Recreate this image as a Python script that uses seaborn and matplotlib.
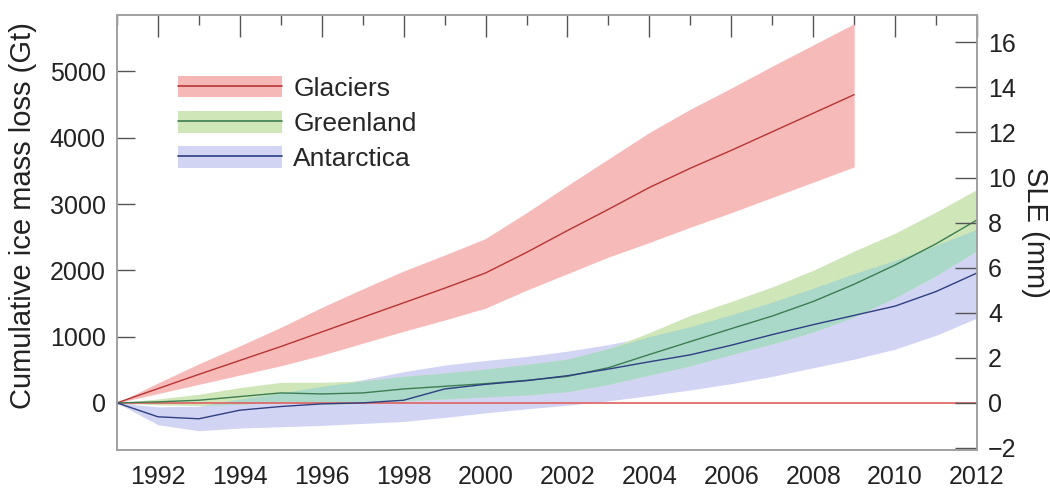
import numpy as np
import pandas as pd
import matplotlib
matplotlib.use("Agg")
import matplotlib.pyplot as plt
from matplotlib.patches import Patch
from matplotlib.lines import Line2D
from matplotlib.ticker import MultipleLocator
import seaborn as sns

# Cumulative ice mass loss (Gt) by year
years = list(range(1991, 2013))
glacier_years = list(range(1991, 2010))

glaciers = [0, 215, 430, 640, 850, 1070, 1290, 1510, 1730, 1960, 2270,
            2600, 2920, 3250, 3540, 3810, 4090, 4370, 4650]
glaciers_upper = [0, 300, 590, 860, 1140, 1440, 1720, 1990, 2230, 2480, 2870,
                  3280, 3680, 4080, 4430, 4750, 5080, 5400, 5720]
glaciers_lower = [0, 140, 280, 420, 560, 720, 900, 1080, 1250, 1430, 1700,
                  1950, 2200, 2420, 2650, 2870, 3100, 3330, 3560]

greenland = [0, 15, 40, 95, 150, 135, 150, 210, 250, 290, 340, 400, 530, 730,
             925, 1120, 1310, 1530, 1790, 2080, 2400, 2760]
greenland_upper = [0, 60, 130, 230, 310, 310, 330, 400, 450, 510, 580, 660,
                   820, 1060, 1320, 1530, 1750, 2000, 2290, 2560, 2880, 3220]
greenland_lower = [0, -30, -40, -20, 10, -20, -10, 30, 60, 90, 120, 170, 280,
                   420, 560, 730, 890, 1070, 1300, 1590, 1920, 2300]

antarctica = [0, -210, -240, -110, -55, -15, 0, 40, 210, 280, 335, 410, 510,
              620, 725, 870, 1030, 1180, 1320, 1460, 1680, 1960]
antarctica_upper = [0, -60, -50, 60, 150, 250, 350, 470, 570, 640, 700, 780,
                    880, 1000, 1150, 1330, 1520, 1730, 1950, 2150, 2380, 2620]
antarctica_lower = [0, -330, -420, -380, -360, -340, -310, -280, -220, -150,
                    -90, -35, 30, 110, 195, 290, 400, 530, 660, 810, 1020, 1280]

regions = ["Glaciers", "Greenland", "Antarctica"]
gt_per_mm = 340.0

line_colors = {"Glaciers": "#b83434", "Greenland": "#3d7d52", "Antarctica": "#2f3f82"}
band_colors = {"Glaciers": "#f5b8b7", "Greenland": "#cfe6b8", "Antarctica": "#d2d4f3"}
overlap_color = "#aad8c9"

df = pd.concat([
    pd.DataFrame({"year": glacier_years, "loss": glaciers, "region": "Glaciers"}),
    pd.DataFrame({"year": years, "loss": greenland, "region": "Greenland"}),
    pd.DataFrame({"year": years, "loss": antarctica, "region": "Antarctica"}),
], ignore_index=True)

sns.set_theme(style="white")
plt.rcParams["font.family"] = ["Liberation Sans", "DejaVu Sans"]

fig, ax = plt.subplots(figsize=(10.5, 4.88), dpi=100)
fig.subplots_adjust(left=0.1114, right=0.9305, bottom=0.078, top=0.969)

# uncertainty bands
ax.fill_between(years, antarctica_lower, antarctica_upper,
                color=band_colors["Antarctica"], lw=0, zorder=1)
ax.fill_between(years, greenland_lower, greenland_upper,
                color=band_colors["Greenland"], lw=0, zorder=1.1)
ov_lo = np.maximum(antarctica_lower, greenland_lower)
ov_hi = np.minimum(antarctica_upper, greenland_upper)
ax.fill_between(years, ov_lo, ov_hi, where=ov_hi > ov_lo, interpolate=True,
                color=overlap_color, lw=0, zorder=1.2)
ax.fill_between(glacier_years, glaciers_lower, glaciers_upper,
                color="#f08c8b", alpha=0.6, lw=0, zorder=1.3)

ax.axhline(0, color="#de6b6b", lw=1.3, zorder=2)

sns.lineplot(data=df, x="year", y="loss", hue="region", hue_order=regions,
             palette=line_colors, lw=1.0, legend=False, ax=ax, zorder=3)

ax.set_xlim(1991, 2012)
ax.set_ylim(-710, 5850)
ax.set_xticks(range(1992, 2013, 2))
ax.xaxis.set_minor_locator(MultipleLocator(1))
ax.set_yticks(range(0, 5001, 1000))
ax.set_xlabel("")
ax.set_ylabel("Cumulative ice mass loss (Gt)", fontsize=21, color="#222222")
ax.yaxis.set_label_coords(-0.093, 0.54)

tick_col = "#555555"
ax.tick_params(axis="x", which="major", direction="in", length=16, width=1,
               top=True, labelsize=18, pad=11, color=tick_col, labelcolor="#222222")
ax.tick_params(axis="x", which="minor", direction="in", length=7, width=1,
               top=True, color=tick_col)
ax.tick_params(axis="y", which="major", direction="in", length=13, width=1,
               right=False, labelsize=18, pad=8, color=tick_col, labelcolor="#222222")

ax2 = ax.twinx()
ax2.set_ylim(-710 / gt_per_mm, 5850 / gt_per_mm)
ax2.set_yticks(range(-2, 17, 2))
ax2.tick_params(axis="y", direction="in", length=16, width=1, labelsize=18,
                pad=8, color=tick_col, labelcolor="#222222")
ax2.set_ylabel("SLE (mm)", rotation=270, va="bottom", fontsize=21,
               labelpad=3, color="#222222")

for a in (ax, ax2):
    for s in a.spines.values():
        s.set_color("#a0a0a0")
        s.set_linewidth(1.2)

handles = [(Patch(facecolor=band_colors[r], edgecolor="none"),
            Line2D([], [], color=line_colors[r], lw=1.2)) for r in regions]
ax.legend(handles, regions, loc="upper left", bbox_to_anchor=(0.071, 0.861),
          frameon=False, borderpad=0, borderaxespad=0, handlelength=3.95,
          handleheight=0.9, handletextpad=0.42, labelspacing=0.38, fontsize=19)

fig.savefig("out.png", dpi=100)
